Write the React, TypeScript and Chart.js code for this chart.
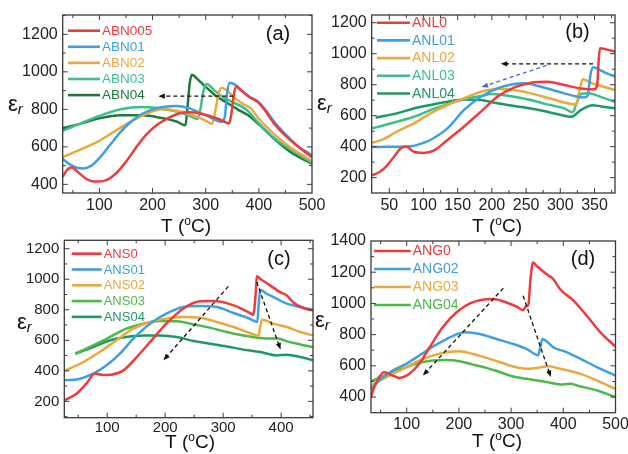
import React, { useEffect, useRef } from 'react';
import { Chart, registerables } from 'chart.js';

Chart.register(...registerables);

const W = 628;
const H = 454;
const FONT = '"Liberation Sans", Arial, Helvetica, sans-serif';
const Y_AXIS_W = 50;
const X_AXIS_H = 30;

// ---------- Panel (a) ----------
const abn005T = [31, 40, 48, 60, 75, 90, 110, 130, 150, 170, 190, 210, 230, 250, 270, 290, 310, 330, 344, 348, 352, 357, 365, 380, 392, 400, 410, 430, 450, 470, 500];
const abn005 = [440, 480, 490, 465, 430, 415, 420, 455, 520, 600, 670, 720, 755, 778, 785, 778, 762, 742, 725, 770, 860, 922, 905, 870, 850, 835, 800, 720, 660, 610, 545];
const abn01T = [31, 45, 60, 70, 85, 100, 120, 140, 160, 180, 200, 220, 245, 270, 290, 310, 330, 336, 340, 345, 355, 370, 385, 395, 410, 430, 450, 470, 500];
const abn01 = [535, 505, 487, 485, 500, 540, 610, 680, 735, 775, 800, 812, 818, 805, 780, 755, 733, 760, 880, 942, 932, 895, 862, 848, 805, 730, 668, 612, 555];
const abn02T = [31, 60, 100, 150, 200, 220, 250, 280, 300, 312, 318, 324, 330, 340, 355, 370, 385, 400, 430, 460, 500];
const abn02 = [545, 580, 632, 720, 790, 800, 790, 765, 740, 722, 790, 880, 915, 900, 860, 830, 805, 750, 665, 595, 525];
const abn03T = [31, 60, 100, 140, 180, 220, 250, 270, 285, 290, 296, 302, 315, 335, 350, 365, 380, 400, 430, 460, 500];
const abn03 = [685, 720, 765, 800, 812, 802, 785, 765, 748, 800, 900, 935, 905, 860, 840, 820, 790, 725, 645, 585, 515];
const abn04T = [31, 60, 100, 140, 180, 220, 245, 262, 266, 270, 274, 285, 300, 320, 340, 360, 380, 400, 430, 460, 500];
const abn04 = [700, 720, 752, 768, 768, 752, 735, 715, 820, 940, 985, 960, 920, 870, 835, 800, 768, 720, 640, 572, 510];
const aXTicks = [100, 200, 300, 400, 500];
const aYTicks = [400, 600, 800, 1000, 1200];
const aArrows: Arrow[] = [{ from: [352, 870], to: [211, 870], color: '#111' }];

// ---------- Panel (b) ----------
const anl0T = [25, 35, 45, 57, 67, 75, 86, 100, 115, 135, 159, 184, 208, 233, 257, 281, 306, 330, 350, 354, 356, 358, 370, 380];
const anl0 = [215, 235, 270, 335, 390, 400, 367, 360, 374, 443, 529, 626, 722, 783, 813, 819, 798, 776, 770, 800, 950, 1035, 1025, 1013];
const anl01T = [25, 50, 85, 100, 110, 135, 159, 184, 208, 233, 245, 281, 306, 320, 335, 340, 344, 348, 360, 370, 380];
const anl01 = [398, 400, 405, 425, 443, 518, 636, 722, 776, 804, 809, 776, 744, 728, 718, 730, 860, 912, 890, 870, 855];
const anl02T = [25, 40, 61, 86, 110, 135, 159, 184, 208, 233, 257, 281, 311, 323, 328, 333, 345, 360, 380];
const anl02 = [425, 445, 497, 550, 615, 669, 712, 755, 772, 766, 744, 716, 680, 672, 760, 836, 812, 792, 765];
const anl03T = [25, 61, 86, 110, 135, 159, 184, 200, 233, 257, 281, 306, 318, 324, 330, 341, 360, 380];
const anl03 = [518, 561, 593, 636, 675, 705, 727, 740, 722, 701, 673, 647, 622, 680, 740, 745, 720, 688];
const anl04T = [30, 61, 86, 110, 135, 159, 184, 208, 233, 257, 281, 301, 316, 330, 347, 360, 380];
const anl04 = [587, 615, 647, 669, 690, 705, 701, 680, 662, 647, 626, 604, 593, 636, 668, 660, 648];
const bXTicks = [50, 100, 150, 200, 250, 300, 350];
const bYTicks = [200, 400, 600, 800, 1000, 1200];
const bArrows: Arrow[] = [
  { from: [348, 935], to: [213, 935], color: '#111' },
  { from: [280, 925], to: [185, 785], color: '#3a6fd0' },
];

// ---------- Panel (c) ----------
const ans0T = [26, 47, 64, 79, 93, 107, 128, 151, 174, 202, 231, 260, 283, 318, 346, 352, 356, 358, 365, 381, 398, 410, 421, 439, 455];
const ans0 = [207, 250, 316, 383, 372, 375, 403, 490, 589, 709, 807, 855, 857, 829, 779, 768, 900, 1019, 1000, 960, 916, 894, 848, 810, 795];
const ans01T = [26, 50, 76, 99, 122, 145, 174, 202, 231, 260, 289, 318, 346, 359, 361, 364, 375, 387, 410, 433, 455];
const ans01 = [338, 345, 381, 436, 512, 611, 709, 774, 818, 825, 818, 779, 741, 720, 820, 931, 905, 883, 840, 818, 800];
const ans02T = [26, 59, 87, 116, 145, 174, 202, 230, 260, 289, 318, 346, 361, 364, 367, 387, 410, 433, 455];
const ans02 = [399, 458, 523, 600, 676, 720, 742, 752, 748, 720, 687, 648, 630, 690, 735, 709, 687, 654, 632];
const ans03T = [45, 76, 105, 133, 162, 191, 220, 249, 277, 306, 335, 364, 387, 395, 410, 433, 455];
const ans03 = [512, 567, 622, 676, 709, 726, 724, 704, 683, 654, 632, 615, 611, 612, 593, 573, 556];
const ans04T = [45, 76, 105, 133, 162, 191, 220, 249, 277, 306, 335, 364, 392, 410, 433, 455];
const ans04 = [512, 556, 600, 622, 632, 632, 622, 595, 578, 560, 539, 523, 501, 506, 491, 469];
const cXTicks = [100, 200, 300, 400];
const cYTicks = [200, 400, 600, 800, 1000, 1200];
const cArrows: Arrow[] = [
  { from: [309, 953], to: [197, 469], color: '#111' },
  { from: [358, 982], to: [399, 539], color: '#111' },
];

// ---------- Panel (d) ----------
const ang0T = [31, 38, 47, 57, 73, 86, 105, 124, 144, 169, 195, 221, 240, 266, 291, 311, 323, 328, 333, 337, 342, 349, 368, 381, 394, 420, 445, 471, 500];
const ang0 = [396, 464, 527, 559, 538, 523, 549, 613, 719, 847, 942, 1000, 1021, 1028, 1006, 979, 957, 980, 990, 1150, 1262, 1240, 1187, 1155, 1091, 1017, 921, 815, 723];
const ang02T = [31, 47, 73, 99, 124, 150, 176, 201, 214, 240, 272, 304, 330, 352, 356, 360, 381, 407, 433, 465, 500];
const ang02 = [447, 506, 570, 613, 666, 723, 772, 808, 815, 804, 772, 740, 708, 668, 720, 772, 719, 687, 645, 591, 538];
const ang03T = [31, 73, 99, 124, 150, 176, 201, 227, 253, 279, 304, 330, 349, 372, 394, 433, 465, 500];
const ang03 = [474, 549, 591, 634, 666, 687, 694, 676, 651, 623, 596, 581, 587, 597, 581, 549, 506, 453];
const ang04T = [31, 73, 99, 124, 150, 176, 201, 227, 253, 279, 304, 330, 368, 394, 413, 433, 465, 500];
const ang04 = [500, 559, 591, 619, 634, 638, 630, 608, 587, 559, 532, 517, 496, 481, 485, 468, 442, 400];
const dXTicks = [100, 200, 300, 400, 500];
const dYTicks = [400, 600, 800, 1000, 1200, 1400];
const dArrows: Arrow[] = [
  { from: [285, 1098], to: [131, 538], color: '#111' },
  { from: [323, 1049], to: [376, 528], color: '#111' },
];

// ---------- colours ----------
const RED = '#ee3b3b';
const BLUE = '#3f9fe0';
const ORANGE = '#e9a93c';
const TEAL = '#3dbf8c';
const DKGREEN = '#1f7a3a';
const SEAGREEN = '#1a9a62';
const GREEN = '#4cb848';

type Arrow = { from: [number, number]; to: [number, number]; color: string };
type Series = { label: string; color: string; t: number[]; v: number[] };
type Panel = {
  tag: string;
  plot: { l: number; t: number; r: number; b: number };
  xMin: number; xMax: number; yMin: number; yMax: number;
  xTicks: number[]; yTicks: number[]; xMinor: number; yMinor: number;
  tickSize: number; xPad: number;
  series: Series[];
  legend: { x: number; y: number; dy: number; len: number; size: number };
  tagPos: [number, number];
  eps: [number, number];
  title: [number, number];
  arrows: Arrow[];
};

const panels: Panel[] = [
  {
    tag: '(a)', plot: { l: 62.7, t: 15, r: 312, b: 193 },
    xMin: 31, xMax: 500, yMin: 354, yMax: 1303,
    xTicks: aXTicks, yTicks: aYTicks, xMinor: 50, yMinor: 100, tickSize: 16, xPad: 3,
    series: [
      { label: 'ABN005', color: RED, t: abn005T, v: abn005 },
      { label: 'ABN01', color: BLUE, t: abn01T, v: abn01 },
      { label: 'ABN02', color: ORANGE, t: abn02T, v: abn02 },
      { label: 'ABN03', color: TEAL, t: abn03T, v: abn03 },
      { label: 'ABN04', color: DKGREEN, t: abn04T, v: abn04 },
    ],
    legend: { x: 68, y: 30.7, dy: 16.1, len: 32, size: 13.5 },
    tagPos: [278, 34], eps: [8, 111], title: [186, 232], arrows: aArrows,
  },
  {
    tag: '(b)', plot: { l: 371.7, t: 15, r: 615, b: 193 },
    xMin: 24.3, xMax: 380, yMin: 101, yMax: 1250,
    xTicks: bXTicks, yTicks: bYTicks, xMinor: 25, yMinor: 100, tickSize: 16, xPad: 3,
    series: [
      { label: 'ANL0', color: RED, t: anl0T, v: anl0 },
      { label: 'ANL01', color: BLUE, t: anl01T, v: anl01 },
      { label: 'ANL02', color: ORANGE, t: anl02T, v: anl02 },
      { label: 'ANL03', color: TEAL, t: anl03T, v: anl03 },
      { label: 'ANL04', color: SEAGREEN, t: anl04T, v: anl04 },
    ],
    legend: { x: 377, y: 22.7, dy: 17.7, len: 33, size: 14 },
    tagPos: [577.5, 32.5], eps: [317, 110], title: [497, 232], arrows: bArrows,
  },
  {
    tag: '(c)', plot: { l: 64.3, t: 240.3, r: 313, b: 417.7 },
    xMin: 26, xMax: 455, yMin: 93, yMax: 1255,
    xTicks: cXTicks, yTicks: cYTicks, xMinor: 50, yMinor: 100, tickSize: 15, xPad: 1,
    series: [
      { label: 'ANS0', color: RED, t: ans0T, v: ans0 },
      { label: 'ANS01', color: BLUE, t: ans01T, v: ans01 },
      { label: 'ANS02', color: ORANGE, t: ans02T, v: ans02 },
      { label: 'ANS03', color: GREEN, t: ans03T, v: ans03 },
      { label: 'ANS04', color: SEAGREEN, t: ans04T, v: ans04 },
    ],
    legend: { x: 71.7, y: 253.7, dy: 15.8, len: 30, size: 13 },
    tagPos: [279, 259.5], eps: [17, 329], title: [190, 448], arrows: cArrows,
  },
  {
    tag: '(d)', plot: { l: 371, t: 241, r: 615.5, b: 412.7 },
    xMin: 31.6, xMax: 500, yMin: 300, yMax: 1400,
    xTicks: dXTicks, yTicks: dYTicks, xMinor: 50, yMinor: 100, tickSize: 16, xPad: 2,
    series: [
      { label: 'ANG0', color: RED, t: ang0T, v: ang0 },
      { label: 'ANG02', color: BLUE, t: ang02T, v: ang02 },
      { label: 'ANG03', color: ORANGE, t: ang03T, v: ang03 },
      { label: 'ANG04', color: GREEN, t: ang04T, v: ang04 },
    ],
    legend: { x: 374, y: 251, dy: 18, len: 36.7, size: 14 },
    tagPos: [583, 259.5], eps: [315, 327], title: [497, 447], arrows: dArrows,
  },
];

function minorValues(min: number, max: number, step: number, majors: number[]) {
  const out: number[] = [];
  for (let v = Math.ceil(min / step) * step; v <= max + 1e-9; v += step) {
    if (!majors.some((m) => Math.abs(m - v) < 1e-6)) out.push(v);
  }
  return out;
}

function makeDecor(p: Panel) {
  return {
    id: 'decor',
    afterDraw(chart: any) {
      const { ctx, chartArea: a, scales } = chart;
      const xs = scales.x;
      const ys = scales.y;
      ctx.save();

      // arrows
      for (const ar of p.arrows) {
        const x1 = xs.getPixelForValue(ar.from[0]);
        const y1 = ys.getPixelForValue(ar.from[1]);
        const x2 = xs.getPixelForValue(ar.to[0]);
        const y2 = ys.getPixelForValue(ar.to[1]);
        const ang = Math.atan2(y2 - y1, x2 - x1);
        const head = 7;
        ctx.strokeStyle = ar.color;
        ctx.fillStyle = ar.color;
        ctx.lineWidth = 1.3;
        ctx.setLineDash([4, 3]);
        ctx.beginPath();
        ctx.moveTo(x1, y1);
        ctx.lineTo(x2 - head * 0.8 * Math.cos(ang), y2 - head * 0.8 * Math.sin(ang));
        ctx.stroke();
        ctx.setLineDash([]);
        ctx.beginPath();
        ctx.moveTo(x2, y2);
        ctx.lineTo(x2 - head * Math.cos(ang - 0.38), y2 - head * Math.sin(ang - 0.38));
        ctx.lineTo(x2 - head * Math.cos(ang + 0.38), y2 - head * Math.sin(ang + 0.38));
        ctx.closePath();
        ctx.fill();
      }

      // frame
      ctx.strokeStyle = '#3a3a3a';
      ctx.lineWidth = 1.3;
      ctx.strokeRect(a.left, a.top, a.right - a.left, a.bottom - a.top);

      // inward ticks on all sides
      ctx.lineWidth = 1;
      ctx.beginPath();
      const xMinor = minorValues(p.xMin, p.xMax, p.xMinor, p.xTicks);
      const yMinor = minorValues(p.yMin, p.yMax, p.yMinor, p.yTicks);
      const xT = [...p.xTicks.map((v) => [v, 5]), ...xMinor.map((v) => [v, 3])];
      const yT = [...p.yTicks.map((v) => [v, 5]), ...yMinor.map((v) => [v, 3])];
      for (const [v, len] of xT) {
        const px = xs.getPixelForValue(v);
        if (px < a.left + 0.5 || px > a.right - 0.5) continue;
        ctx.moveTo(px, a.bottom);
        ctx.lineTo(px, a.bottom - len);
        ctx.moveTo(px, a.top);
        ctx.lineTo(px, a.top + len);
      }
      for (const [v, len] of yT) {
        const py = ys.getPixelForValue(v);
        if (py < a.top + 0.5 || py > a.bottom - 0.5) continue;
        ctx.moveTo(a.left, py);
        ctx.lineTo(a.left + len, py);
        ctx.moveTo(a.right, py);
        ctx.lineTo(a.right - len, py);
      }
      ctx.stroke();

      // legend
      const lg = p.legend;
      ctx.textBaseline = 'middle';
      ctx.textAlign = 'left';
      ctx.font = `${lg.size}px ${FONT}`;
      p.series.forEach((s, i) => {
        const y = lg.y + i * lg.dy;
        ctx.strokeStyle = s.color;
        ctx.lineWidth = 2.6;
        ctx.beginPath();
        ctx.moveTo(lg.x, y);
        ctx.lineTo(lg.x + lg.len, y);
        ctx.stroke();
        ctx.fillStyle = s.color;
        ctx.fillText(s.label, lg.x + lg.len + 2, y + 0.5);
      });

      // panel tag
      ctx.fillStyle = '#111';
      ctx.font = `20px ${FONT}`;
      ctx.textAlign = 'center';
      ctx.fillText(p.tag, p.tagPos[0], p.tagPos[1]);

      // y label epsilon_r
      ctx.textAlign = 'left';
      ctx.textBaseline = 'alphabetic';
      ctx.font = `22px ${FONT}`;
      ctx.fillText('ε', p.eps[0], p.eps[1]);
      const ew = ctx.measureText('ε').width;
      ctx.font = `italic 15px ${FONT}`;
      ctx.fillText('r', p.eps[0] + ew, p.eps[1] + 3);

      // x title T (oC)
      const big = `19px ${FONT}`;
      const small = `12px ${FONT}`;
      ctx.font = big;
      const w1 = ctx.measureText('T (').width;
      const w3 = ctx.measureText('C)').width;
      ctx.font = small;
      const w2 = ctx.measureText('o').width;
      let x = p.title[0] - (w1 + w2 + w3) / 2;
      const y = p.title[1];
      ctx.font = big;
      ctx.fillText('T (', x, y);
      x += w1;
      ctx.font = small;
      ctx.fillText('o', x, y - 7);
      x += w2;
      ctx.font = big;
      ctx.fillText('C)', x, y);

      ctx.restore();
    },
  };
}

function PanelChart({ p }: { p: Panel }) {
  const ref = useRef<HTMLCanvasElement | null>(null);
  useEffect(() => {
    if (!ref.current) return;
    const tickFont = { size: p.tickSize, family: FONT };
    const fmt = (v: number | string) => String(v);
    const chart = new Chart(ref.current, {
      type: 'line',
      data: {
        datasets: p.series.map((s) => ({
          label: s.label,
          data: s.t.map((t, i) => ({ x: t, y: s.v[i] })),
          borderColor: s.color,
          backgroundColor: s.color,
          borderWidth: 2.5,
          pointRadius: 0,
          fill: false,
          cubicInterpolationMode: 'monotone' as const,
        })),
      },
      options: {
        animation: false,
        responsive: false,
        devicePixelRatio: 1,
        events: [],
        layout: {
          padding: {
            left: p.plot.l - Y_AXIS_W,
            top: p.plot.t,
            right: W - p.plot.r,
            bottom: H - p.plot.b - X_AXIS_H,
          },
        },
        plugins: { legend: { display: false }, tooltip: { enabled: false }, title: { display: false } },
        scales: {
          x: {
            type: 'linear',
            min: p.xMin,
            max: p.xMax,
            afterBuildTicks: (s: any) => { s.ticks = p.xTicks.map((v) => ({ value: v })); },
            afterFit: (s: any) => { s.height = X_AXIS_H; s.paddingLeft = 0; s.paddingRight = 0; },
            grid: { display: false, drawTicks: false },
            border: { display: false },
            ticks: { font: tickFont, color: '#222', padding: p.xPad, maxRotation: 0, autoSkip: false, callback: fmt },
          },
          y: {
            type: 'linear',
            min: p.yMin,
            max: p.yMax,
            afterBuildTicks: (s: any) => { s.ticks = p.yTicks.map((v) => ({ value: v })); },
            afterFit: (s: any) => { s.width = Y_AXIS_W; s.paddingTop = 0; s.paddingBottom = 0; },
            grid: { display: false, drawTicks: false },
            border: { display: false },
            ticks: { font: tickFont, color: '#222', padding: 5, autoSkip: false, callback: fmt },
          },
        },
      },
      plugins: [makeDecor(p)],
    } as any);
    return () => chart.destroy();
  }, [p]);
  return (
    <canvas
      ref={ref}
      width={W}
      height={H}
      style={{ position: 'absolute', left: 0, top: 0, width: W, height: H }}
    />
  );
}

export default function App() {
  return (
    <div style={{ position: 'fixed', left: 0, top: 0, width: W, height: H, background: '#fff', overflow: 'hidden' }}>
      {panels.map((p) => (
        <PanelChart key={p.tag} p={p} />
      ))}
    </div>
  );
}
